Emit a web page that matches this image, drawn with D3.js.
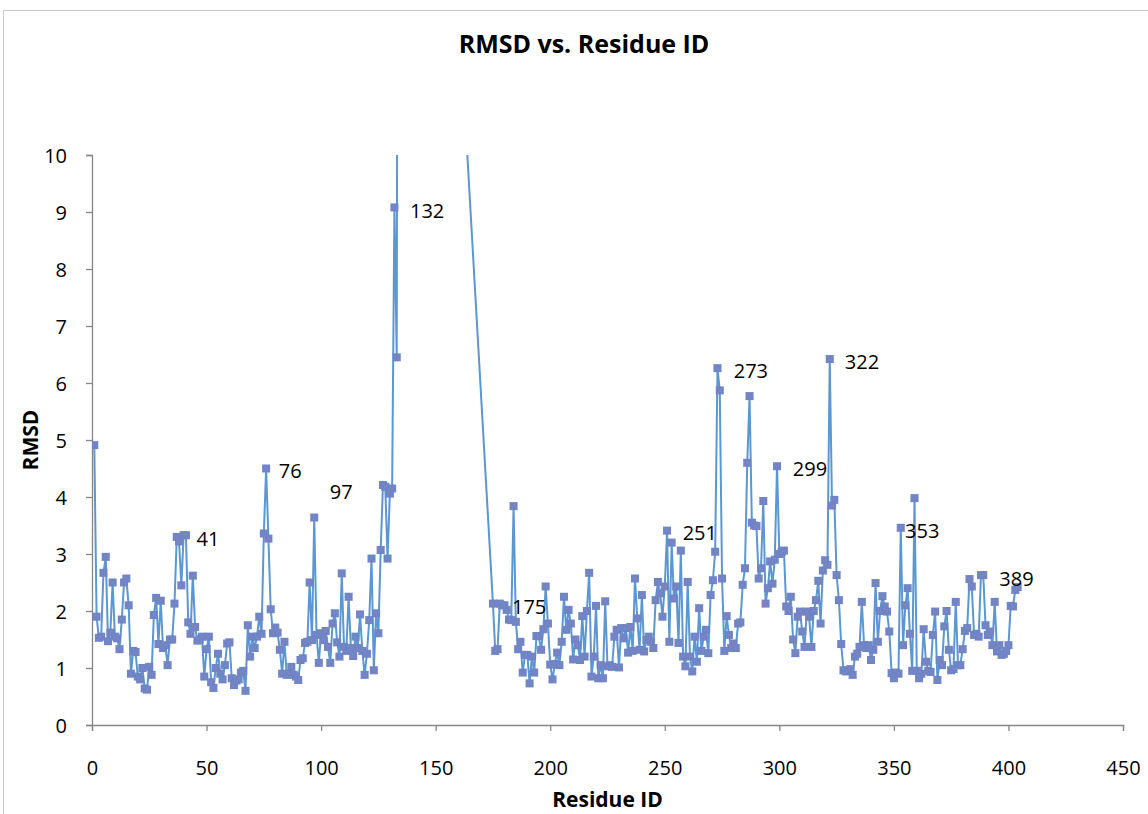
<!DOCTYPE html>
<html>
<head>
<meta charset="utf-8">
<script src="https://cdn.jsdelivr.net/npm/d3@7"></script>
<style>
  body { margin: 0; background: #fff; }
  text { font-family: "Open Sans", sans-serif; }
</style>
</head>
<body>
<div id="chart"></div>
<script>
// Set up SVG frame
var svgWidth = 1148;
var svgHeight = 814;

var Margin = {
  top: 155,
  right: 25,
  bottom: 89,
  left: 92
};

var width = svgWidth - Margin.left - Margin.right;
var height = svgHeight - Margin.top - Margin.bottom;

// RMSD per residue, first run starts at residue 1
var startA = 1;
var rmsdA = [
  4.91, 1.9, 1.53, 1.55, 2.67, 2.95, 1.47, 1.62, 2.5, 1.55,
  1.52, 1.33, 1.85, 2.5, 2.57, 2.1, 0.9, 1.3, 1.28, 0.85,
  0.8, 1.0, 0.64, 0.62, 1.02, 0.88, 1.93, 2.23, 1.42, 2.18,
  1.35, 1.4, 1.05, 1.5, 1.5, 2.13, 3.3, 3.22, 2.45, 3.33,
  3.33, 1.8, 1.6, 2.62, 1.72, 1.48, 1.5, 1.55, 0.85, 1.33,
  1.55, 0.75, 0.65, 1.0, 1.25, 0.9, 0.8, 1.05, 1.43, 1.45,
  0.82, 0.7, 0.78, 0.8, 0.92, 0.95, 0.6, 1.75, 1.2, 1.55,
  1.35, 1.55, 1.9, 1.6, 3.36, 4.5, 3.27, 2.03, 1.61, 1.71,
  1.62, 1.32, 0.9, 1.46, 0.88, 0.9, 1.02, 0.88, 0.85, 0.79,
  1.14, 1.17, 1.44, 1.46, 2.5, 1.49, 3.64, 1.58, 1.09, 1.61,
  1.49, 1.65, 1.37, 1.09, 1.78, 1.96, 1.45, 1.2, 2.66, 1.37,
  1.3, 2.25, 1.35, 1.21, 1.55, 1.35, 1.94, 1.3, 0.88, 1.25,
  1.84, 2.92, 0.96, 1.96, 1.61, 3.07, 4.21, 4.18, 2.92, 4.06,
  4.15, 9.08, 6.45, 31
];

// second run starts at residue 175
var startB = 175;
var rmsdB = [
  2.13, 1.3, 1.33, 2.13, 2.1, 2.1, 2.02, 1.85, 1.84, 3.84,
  1.81, 1.33, 1.46, 0.92, 1.23, 1.23, 0.73, 1.2, 0.92, 1.56,
  1.56, 1.32, 1.68, 2.43, 1.78, 1.06, 0.8, 1.07, 1.27, 1.05,
  1.46, 2.25, 1.67, 2.02, 1.78, 1.15, 1.5, 1.4, 1.14, 1.91,
  1.2, 2.0, 2.67, 0.85, 1.2, 2.09, 0.82, 1.05, 0.82, 2.17,
  1.03, 1.05, 1.02, 1.55, 1.67, 1.01, 1.7, 1.52, 1.7, 1.27,
  1.72, 1.3, 2.57, 1.87, 1.32, 2.28, 1.29, 1.49, 1.55, 1.46,
  1.35, 2.19, 2.51, 2.31, 1.9, 2.43, 3.41, 1.46, 3.2, 2.22,
  2.43, 1.44, 3.06, 1.2, 1.03, 2.51, 1.2, 0.94, 1.55, 1.11,
  2.05, 1.3, 1.55, 1.67, 1.26, 2.28, 2.54, 3.04, 6.26, 5.87,
  2.57, 1.3, 1.91, 1.58, 1.35, 1.43, 1.35, 1.78, 1.8, 2.46,
  2.75, 4.6, 5.77, 3.55, 3.5, 3.49, 2.57, 2.75, 3.93, 2.13,
  2.4, 2.87, 2.48, 2.9, 4.54, 3.0, 3.04, 3.06, 2.08, 2.0,
  2.25, 1.5, 1.26, 1.9, 1.99, 1.64, 1.37, 1.99, 1.9, 1.37,
  2.0, 2.19, 2.53, 1.78, 2.71, 2.89, 2.81, 6.42, 3.85, 3.95,
  2.63, 2.19, 1.42, 0.96, 0.94, 0.96, 0.98, 0.88, 1.2, 1.25,
  1.37, 2.16, 1.4, 1.35, 1.4, 1.14, 1.32, 2.49, 1.46, 2.0,
  2.26, 2.08, 1.99, 1.64, 0.91, 0.82, 0.92, 0.9, 3.46, 1.4,
  2.1, 2.4, 1.6, 0.95, 3.98, 0.95, 0.82, 0.9, 1.68, 1.11,
  0.95, 0.93, 1.58, 1.99, 0.79, 1.14, 1.05, 1.73, 2.0, 1.32,
  0.96, 0.98, 2.16, 1.05, 1.05, 1.33, 1.65, 1.7, 2.56, 2.43,
  1.58, 1.6, 1.55, 2.63, 2.63, 1.75, 1.58, 1.64, 1.4, 2.16,
  1.29, 1.4, 1.23, 1.25, 1.3, 1.4, 2.09, 2.08, 2.37, 2.42
];

// peak annotations: text, residue and rmsd where the label sits
var labelText = ["41", "76", "97", "132", "175", "251", "273", "299", "322", "353", "389"];
var labelRes  = [45.6, 81.5, 103.8, 138.8, 183.3, 257.8, 280.1, 305.9, 328.6, 354.9, 396.0];
var labelRmsd = [3.26, 4.46, 4.09, 9.02, 2.07, 3.37, 6.21, 4.49, 6.37, 3.40, 2.56];

var xTicks = [0, 50, 100, 150, 200, 250, 300, 350, 400, 450];
var yTicks = [0, 1, 2, 3, 4, 5, 6, 7, 8, 9, 10];

// build the point list
var RmsdData = [];
rmsdA.forEach(function(v, i) { RmsdData.push({ res: startA + i, rmsd: v }); });
rmsdB.forEach(function(v, i) { RmsdData.push({ res: startB + i, rmsd: v }); });

// Create an SVG wrapper
var svg = d3.select("#chart")
            .append("svg")
            .attr("width", svgWidth)
            .attr("height", svgHeight);

// chart border
svg.append("rect")
   .attr("x", 3.5)
   .attr("y", 10.5)
   .attr("width", 1300)
   .attr("height", 1000)
   .attr("fill", "white")
   .attr("stroke", "#c8c8c8");

var chartGroup = svg.append("g")
                    .attr("transform", `translate(${Margin.left}, ${Margin.top})`);

// scales
var xLinearScale = d3.scaleLinear()
  .domain([0, 450])
  .range([0, width]);

var yLinearScale = d3.scaleLinear()
  .domain([0, 10])
  .range([height, 0]);

// axes
var bottomAxis = d3.axisBottom(xLinearScale).tickValues(xTicks).tickSize(6).tickPadding(30);
var leftAxis = d3.axisLeft(yLinearScale).tickValues(yTicks).tickSize(6).tickPadding(19);

var xAxis = chartGroup.append("g")
  .attr("transform", `translate(0, ${height})`)
  .call(bottomAxis);

var yAxis = chartGroup.append("g")
  .call(leftAxis);

[xAxis, yAxis].forEach(function(ax) {
  ax.select(".domain").attr("stroke", "#868686").attr("stroke-width", 1.3);
  ax.selectAll(".tick line").attr("stroke", "#868686").attr("stroke-width", 1.3);
  ax.selectAll(".tick text")
    .attr("font-size", "20px")
    .attr("fill", "#000")
    .style("font-family", "'Open Sans', sans-serif");
});
yAxis.selectAll(".tick text").attr("dy", "0.36em");

// clip to the plot area
chartGroup.append("clipPath")
  .attr("id", "plotClip")
  .append("rect")
  .attr("x", 0)
  .attr("y", 0)
  .attr("width", width)
  .attr("height", height);

var plot = chartGroup.append("g").attr("clip-path", "url(#plotClip)");

var line = d3.line()
  .x(d => xLinearScale(d.res))
  .y(d => yLinearScale(d.rmsd));

plot.append("path")
  .datum(RmsdData)
  .attr("d", line)
  .attr("fill", "none")
  .attr("stroke", "#5b97d3")
  .attr("stroke-width", 2)
  .attr("stroke-linejoin", "round");

// square markers with an x
var markers = plot.selectAll("g.marker")
  .data(RmsdData)
  .enter()
  .append("g")
  .attr("class", "marker")
  .attr("transform", d => `translate(${xLinearScale(d.res)}, ${yLinearScale(d.rmsd)})`);

markers.append("rect")
  .attr("x", -4)
  .attr("y", -4)
  .attr("width", 8)
  .attr("height", 8)
  .attr("fill", "#6a86c6");

markers.append("path")
  .attr("d", "M-3.5,-3.5L3.5,3.5M-3.5,3.5L3.5,-3.5")
  .attr("stroke", "#8d80c0")
  .attr("stroke-width", 1);

// peak labels
labelText.forEach(function(t, i) {
  chartGroup.append("text")
    .attr("x", xLinearScale(labelRes[i]))
    .attr("y", yLinearScale(labelRmsd[i]))
    .attr("dy", "0.36em")
    .attr("font-size", "20px")
    .attr("fill", "#000")
    .text(t);
});

// title
svg.append("text")
  .attr("x", 584)
  .attr("y", 53)
  .attr("font-size", "25px")
  .attr("font-weight", "700")
  .style("text-anchor", "middle")
  .text("RMSD vs. Residue ID");

// x axis label
svg.append("text")
  .attr("x", Margin.left + width / 2)
  .attr("y", 807)
  .attr("font-size", "21px")
  .attr("font-weight", "700")
  .style("text-anchor", "middle")
  .text("Residue ID");

// y axis label
svg.append("text")
  .attr("transform", "rotate(-90)")
  .attr("x", -440)
  .attr("y", 38)
  .attr("font-size", "21px")
  .attr("font-weight", "700")
  .style("text-anchor", "middle")
  .text("RMSD");
</script>
</body>
</html>
